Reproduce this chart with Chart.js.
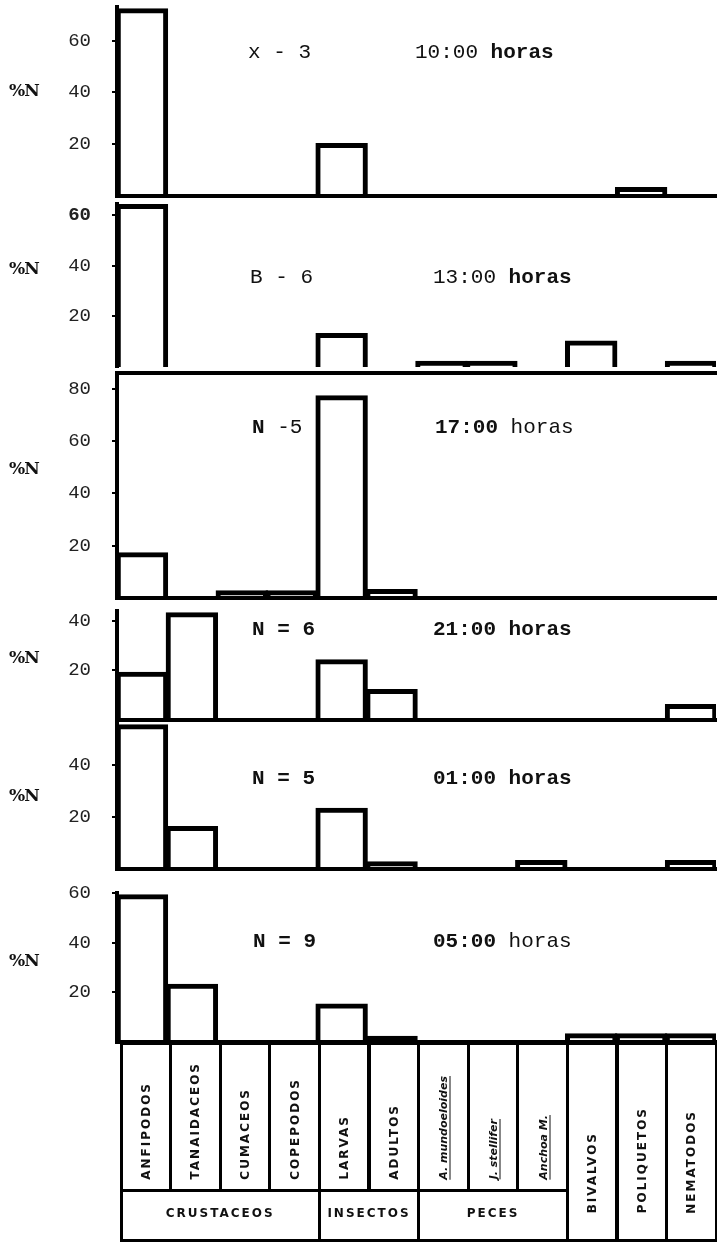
<!DOCTYPE html>
<html>
<head>
<meta charset="utf-8">
<script src="https://cdn.jsdelivr.net/npm/chart.js@4.4.1/dist/chart.umd.min.js"></script>
<style>
body{margin:0;background:#fff;width:717px;height:1244px;position:relative;overflow:hidden;font-family:"Liberation Mono",monospace;color:#111}
canvas{position:absolute;left:0}
.t{position:absolute;white-space:pre;font-size:21px;line-height:24px;height:24px}
.side{position:absolute;left:9px;font:bold 17px "DejaVu Serif",serif;line-height:20px;letter-spacing:-1px}
.cell{position:absolute;border:3px solid #000;box-sizing:border-box}
.vl{position:absolute;left:50%;writing-mode:vertical-rl;transform:translateX(-50%) rotate(180deg);white-space:nowrap;font:bold 12px "DejaVu Sans",sans-serif;letter-spacing:2px;color:#111}
.sp{font-size:11px;letter-spacing:0;text-decoration:underline;font-style:italic}
.grp{position:absolute;left:0;right:0;top:14px;text-align:center;font:bold 12px "DejaVu Sans",sans-serif;letter-spacing:2px}
</style>
</head>
<body>
<script>
// categorias (eje x) y grupos
const categories=['ANFIPODOS','TANAIDACEOS','CUMACEOS','COPEPODOS','LARVAS','ADULTOS','A. mundoeloides','J. stellifer','Anchoa M.','BIVALVOS','POLIQUETOS','NEMATODOS'];
const groupNames=['CRUSTACEOS','INSECTOS','PECES'];
const groupSizes=[4,2,3];

// rotulos de cada panel
const sampleLabels=[['x - 3'],['B - 6'],['N',' -5'],['N = 6'],['N = 5'],['N = 9']];
const hourLabels=['10:00','13:00','17:00','21:00','01:00','05:00'];
const sideLabel='%N';

// %N por categoria, un arreglo por hora
const h1000=[72,0,0,0,20,0,0,0,0,0,3,0];
const h1300=[64,0,0,0,13,0,2,2,0,10,0,2];
const h1700=[17,0,2.5,2.5,77,3,0,0,0,0,0,0];
const h2100=[19,43,0,0,24,12,0,0,0,0,0,6];
const h0100=[55,16,0,0,23,2.5,0,0,3,0,0,3];
const h0500=[59,23,0,0,15,2,0,0,0,3,3,3];

// marcas del eje y y maximo de cada panel
const ticks1000=[20,40,60], ticks1300=[20,40,60], ticks1700=[20,40,60,80];
const ticks2100=[20,40], ticks0100=[20,40], ticks0500=[20,40,60];
const yMax=[73,64.5,86,44,56,60];

// layout (pixeles) y estilos de cada panel
const PAD_TOP=14;
const panels=[
 {values:h1000,ticks:ticks1000,max:yMax[0],top:7,base:196,baseLine:true,topLine:false,boldTicks:[],sx:248,hx:415,cy:53,sy:90,sBold:[false],hBold:false,horasBold:true},
 {values:h1300,ticks:ticks1300,max:yMax[1],top:204,base:367,baseLine:false,topLine:false,boldTicks:[60],sx:250,hx:433,cy:278,sy:268,sBold:[false],hBold:false,horasBold:true},
 {values:h1700,ticks:ticks1700,max:yMax[2],top:373,base:598,baseLine:true,topLine:true,boldTicks:[],sx:252,hx:435,cy:428,sy:468,sBold:[true,false],hBold:true,horasBold:false},
 {values:h2100,ticks:ticks2100,max:yMax[3],top:611,base:720,baseLine:true,topLine:false,boldTicks:[],sx:252,hx:433,cy:630,sy:657,sBold:[true],hBold:true,horasBold:true},
 {values:h0100,ticks:ticks0100,max:yMax[4],top:723,base:869,baseLine:true,topLine:false,boldTicks:[],sx:252,hx:433,cy:779,sy:795,sBold:[true],hBold:true,horasBold:true},
 {values:h0500,ticks:ticks0500,max:yMax[5],top:893,base:1042,baseLine:true,topLine:false,boldTicks:[],sx:253,hx:433,cy:942,sy:960,sBold:[true],hBold:true,horasBold:false}
];

function addText(x,cy,parts){
 const d=document.createElement('div');d.className='t';
 d.style.left=x+'px';d.style.top=(cy-12)+'px';
 parts.forEach(([s,b])=>{const sp=document.createElement('span');sp.textContent=s;if(b) sp.style.fontWeight='bold';d.appendChild(sp);});
 document.body.appendChild(d);
}

function makePanel(p,i){
 const cv=document.createElement('canvas');
 cv.width=717;cv.height=p.base-p.top+PAD_TOP+3;
 cv.style.top=(p.top-PAD_TOP)+'px';
 document.body.appendChild(cv);
 const scales={
  x:{type:'category',display:true,grid:{display:false},ticks:{display:false},
     border:{display:p.baseLine,color:'#000',width:4},
     afterFit:s=>{s.height=0;s.paddingLeft=0;s.paddingRight=0;}},
  y:{min:0,max:p.max,
     grid:{display:true,drawOnChartArea:false,drawTicks:true,tickLength:5,color:'#000',lineWidth:2},
     border:{display:true,color:'#000',width:4},
     ticks:{padding:21,color:'#222',font:c=>({family:'Liberation Mono',size:19,weight:p.boldTicks.includes(c.tick&&c.tick.value)?'bold':'normal'})},
     afterBuildTicks:s=>{s.ticks=p.ticks.map(v=>({value:v}));},
     afterFit:s=>{s.width=117;s.paddingTop=0;s.paddingBottom=0;}}
 };
 if(p.topLine){
  scales.xt={type:'category',position:'top',display:true,grid:{display:false},ticks:{display:false},
   border:{display:true,color:'#000',width:4},afterFit:s=>{s.height=0;s.paddingLeft=0;s.paddingRight=0;}};
 }
 new Chart(cv,{type:'bar',
  data:{labels:categories,datasets:[{data:p.values,backgroundColor:'rgba(0,0,0,0)',borderColor:'#000',borderWidth:2.5,
   borderSkipped:'start',inflateAmount:c=>c.raw>0?1.25:0,barPercentage:1,categoryPercentage:1}]},
  options:{responsive:false,animation:false,events:[],
   layout:{padding:{top:PAD_TOP,bottom:3,left:0,right:1}},
   plugins:{legend:{display:false},tooltip:{enabled:false}},scales}});

 addText(p.sx,p.cy,sampleLabels[i].map((s,k)=>[s,p.sBold[k]]));
 addText(p.hx,p.cy,[[hourLabels[i],p.hBold],[' horas',p.horasBold]]);
 const sd=document.createElement('div');sd.className='side';sd.textContent=sideLabel;
 sd.style.top=(p.sy-10)+'px';document.body.appendChild(sd);
}
panels.forEach(makePanel);

// tabla de categorias bajo el ultimo panel
const tblTop=1043,rowSplit=1190,tblBot=1240,tblLeft=121,colW=49.6;
categories.forEach((name,i)=>{
 const tall=i>=9;
 const c=document.createElement('div');c.className='cell';
 c.style.left=(tblLeft+i*colW-1.5)+'px';c.style.width=(colW+3)+'px';
 c.style.top=(tblTop-1.5)+'px';c.style.height=((tall?tblBot:rowSplit)-tblTop+3)+'px';
 const s=document.createElement('span');s.className='vl'+(i>=6&&i<=8?' sp':'');
 s.textContent=name;s.style.bottom=(tall?25:9)+'px';
 c.appendChild(s);document.body.appendChild(c);
});
let start=0;
groupNames.forEach((g,k)=>{
 const c=document.createElement('div');c.className='cell';
 c.style.left=(tblLeft+start*colW-1.5)+'px';c.style.width=(groupSizes[k]*colW+3)+'px';
 c.style.top=(rowSplit-1.5)+'px';c.style.height=(tblBot-rowSplit+3)+'px';
 const t=document.createElement('div');t.className='grp';t.textContent=g;
 c.appendChild(t);document.body.appendChild(c);
 start+=groupSizes[k];
});
</script>
</body>
</html>
